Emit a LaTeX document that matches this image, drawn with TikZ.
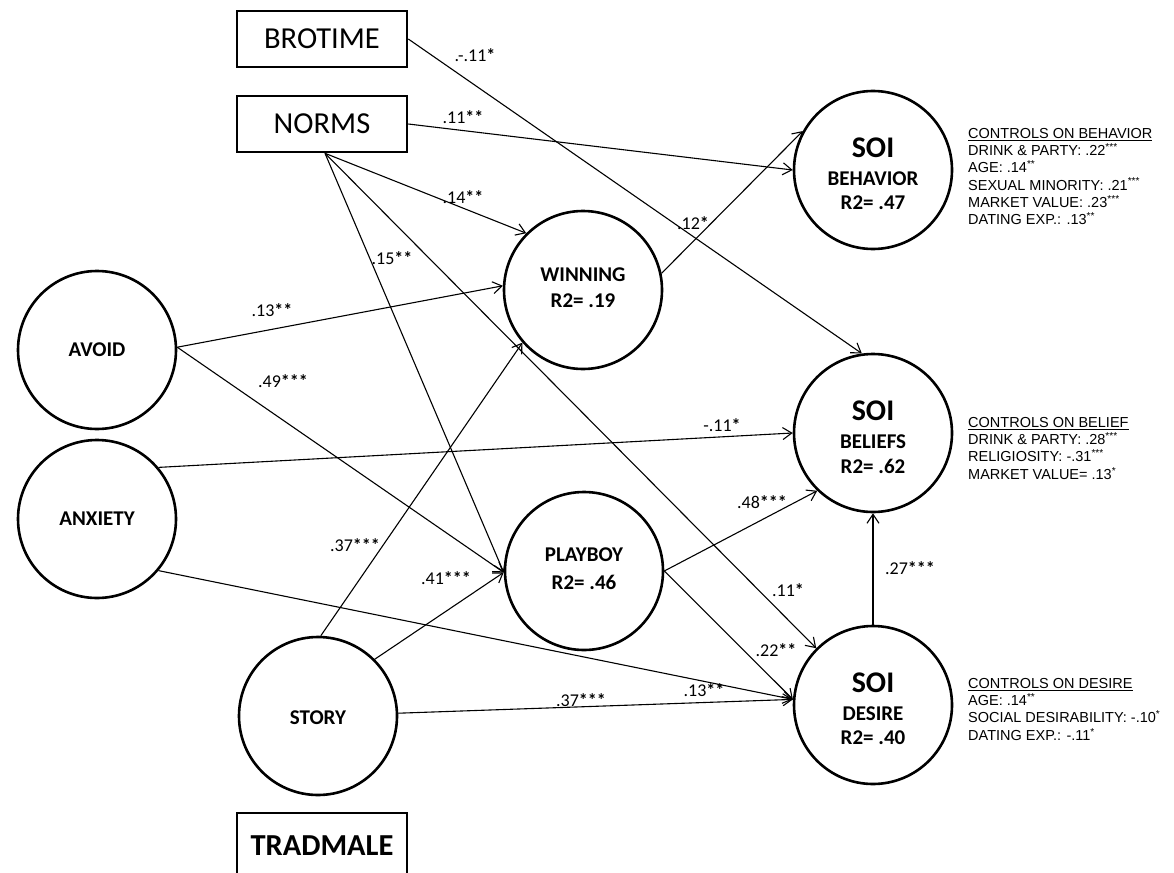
\documentclass[tikz,border=0pt]{standalone}
\usepackage{fontspec}
\setmainfont{Carlito}
\newfontfamily\arialf{Liberation Sans}
\usetikzlibrary{arrows.meta}
\newcommand{\st}[1]{\textbf{#1}}
\begin{document}
\begin{tikzpicture}[x=1pt,y=-1pt,
  circ/.style={circle,draw,line width=2.6pt,minimum size=158pt,inner sep=0pt},
  boxn/.style={rectangle,draw,line width=2.6pt,minimum width=170pt,minimum height=56pt,inner sep=0pt,font=\fontsize{30.5}{32}\selectfont},
  big/.style={font=\bfseries\fontsize{30}{32}\selectfont,inner sep=0pt},
  mid/.style={font=\bfseries\fontsize{21}{23}\selectfont,inner sep=0pt},
  lab/.style={font=\fontsize{18}{19}\selectfont,inner sep=0pt},
  ctrl/.style={font=\arialf\fontsize{14.5}{17.3}\selectfont,align=left,anchor=north west,inner sep=0pt},
  arr/.style={-{Straight Barb[length=9pt,width=12pt]},line width=1.1pt}]
\clip (0,0) rectangle (1174,872);
% boxes
\node[boxn] (brotime) at (322,39) {BROTIME};
\node[boxn] (norms) at (322,124) {NORMS};
\node[boxn,minimum height=66pt,font=\bfseries\fontsize{30.5}{32}\selectfont] (tradmale) at (322,846) {TRADMALE};
% circles
\node[circ] (avoid) at (97,350) {};
\node[mid] (avoidT) at (97,350) {AVOID};
\node[circ] (anx) at (97,519) {};
\node[mid] (anxT) at (97,519) {ANXIETY};
\node[circ] (story) at (318,716) {};
\node[mid] (storyT) at (318,718) {STORY};
\node[circ] (win) at (583,290) {};
\node[mid] (winT1) at (583,275) {WINNING};
\node[mid] (winT2) at (583,301) {R2= .19};
\node[circ] (play) at (584,571) {};
\node[mid] (playT1) at (584,555) {PLAYBOY};
\node[mid] (playT2) at (584,582) {R2= .46};
\node[circ] (beh) at (873,170) {};
\node[big] (behT1) at (873,148) {SOI};
\node[mid] (behT2) at (873,179) {BEHAVIOR};
\node[mid] (behT3) at (873,203) {R2= .47};
\node[circ] (bel) at (873,433) {};
\node[big] (belT1) at (873,411) {SOI};
\node[mid] (belT2) at (873,442) {BELIEFS};
\node[mid] (belT3) at (873,466) {R2= .62};
\node[circ] (des) at (873,705) {};
\node[big] (desT1) at (873,683) {SOI};
\node[mid] (desT2) at (873,714) {DESIRE};
\node[mid] (desT3) at (873,738) {R2= .40};
% connectors
\draw[arr] (brotime.east) -- (bel.98);
\draw[arr] (norms.east) -- (beh.180);
\draw[arr] ([xshift=3pt]norms.south) -- (win.135);
\draw[arr] ([xshift=3pt]norms.south) -- (play.181);
\draw[arr] ([xshift=3pt]norms.south) -- (des.135);
\draw[arr] (avoid.2) -- (win.177);
\draw[arr] (avoid.2) -- (play.181);
\draw[arr] (anx.40) -- (bel.180);
\draw[arr] (anx.-40) -- (des.176);
\draw[arr] (story.88) -- (win.221);
\draw[arr] (story.45) -- (play.181);
\draw[arr] (story.2) -- (des.176);
\draw[arr] (win.12) -- (beh.151);
\draw[arr] (play.0) -- (bel.226);
\draw[arr] (play.0) -- (des.176);
\draw[arr] (des.90) -- (bel.270);
% path labels
\node[lab] (l1) at (475,55) {.-.11\st{*}};
\node[lab] (l2) at (463,117) {.11\st{**}};
\node[lab] (l3) at (463,197) {.14\st{**}};
\node[lab] (l4) at (392,258) {.15\st{**}};
\node[lab] (l5) at (272,310) {.13\st{**}};
\node[lab] (l6) at (283,381) {.49\st{***}};
\node[lab] (l7) at (693,223) {.12\st{*}};
\node[lab] (l8) at (722,425) {-.11\st{*}};
\node[lab] (l9) at (355,545) {.37\st{***}};
\node[lab] (l10) at (446,578) {.41\st{***}};
\node[lab] (l11) at (762,502) {.48\st{***}};
\node[lab] (l12) at (788,590) {.11\st{*}};
\node[lab] (l13) at (776,650) {.22\st{**}};
\node[lab] (l14) at (704,690) {.13\st{**}};
\node[lab] (l15) at (581,700) {.37\st{***}};
\node[lab] (l16) at (910,568) {.27\st{***}};
% controls
\node[ctrl] (cb) at (968,128) {\underline{CONTROLS ON BEHAVIOR}\\DRINK \& PARTY: .22\textsuperscript{***}\\AGE: .14\textsuperscript{**}\\SEXUAL MINORITY: .21\textsuperscript{***}\\MARKET VALUE: .23\textsuperscript{***}\\DATING EXP.: .13\textsuperscript{**}};
\node[ctrl] (cbel) at (968,417) {\underline{CONTROLS ON BELIEF}\\DRINK \& PARTY: .28\textsuperscript{***}\\RELIGIOSITY: -.31\textsuperscript{***}\\MARKET VALUE= .13\textsuperscript{*}};
\node[ctrl] (cdes) at (968,678) {\underline{CONTROLS ON DESIRE}\\AGE: .14\textsuperscript{**}\\SOCIAL DESIRABILITY: -.10\textsuperscript{*}\\DATING EXP.: -.11\textsuperscript{*}};
\end{tikzpicture}
\end{document}
